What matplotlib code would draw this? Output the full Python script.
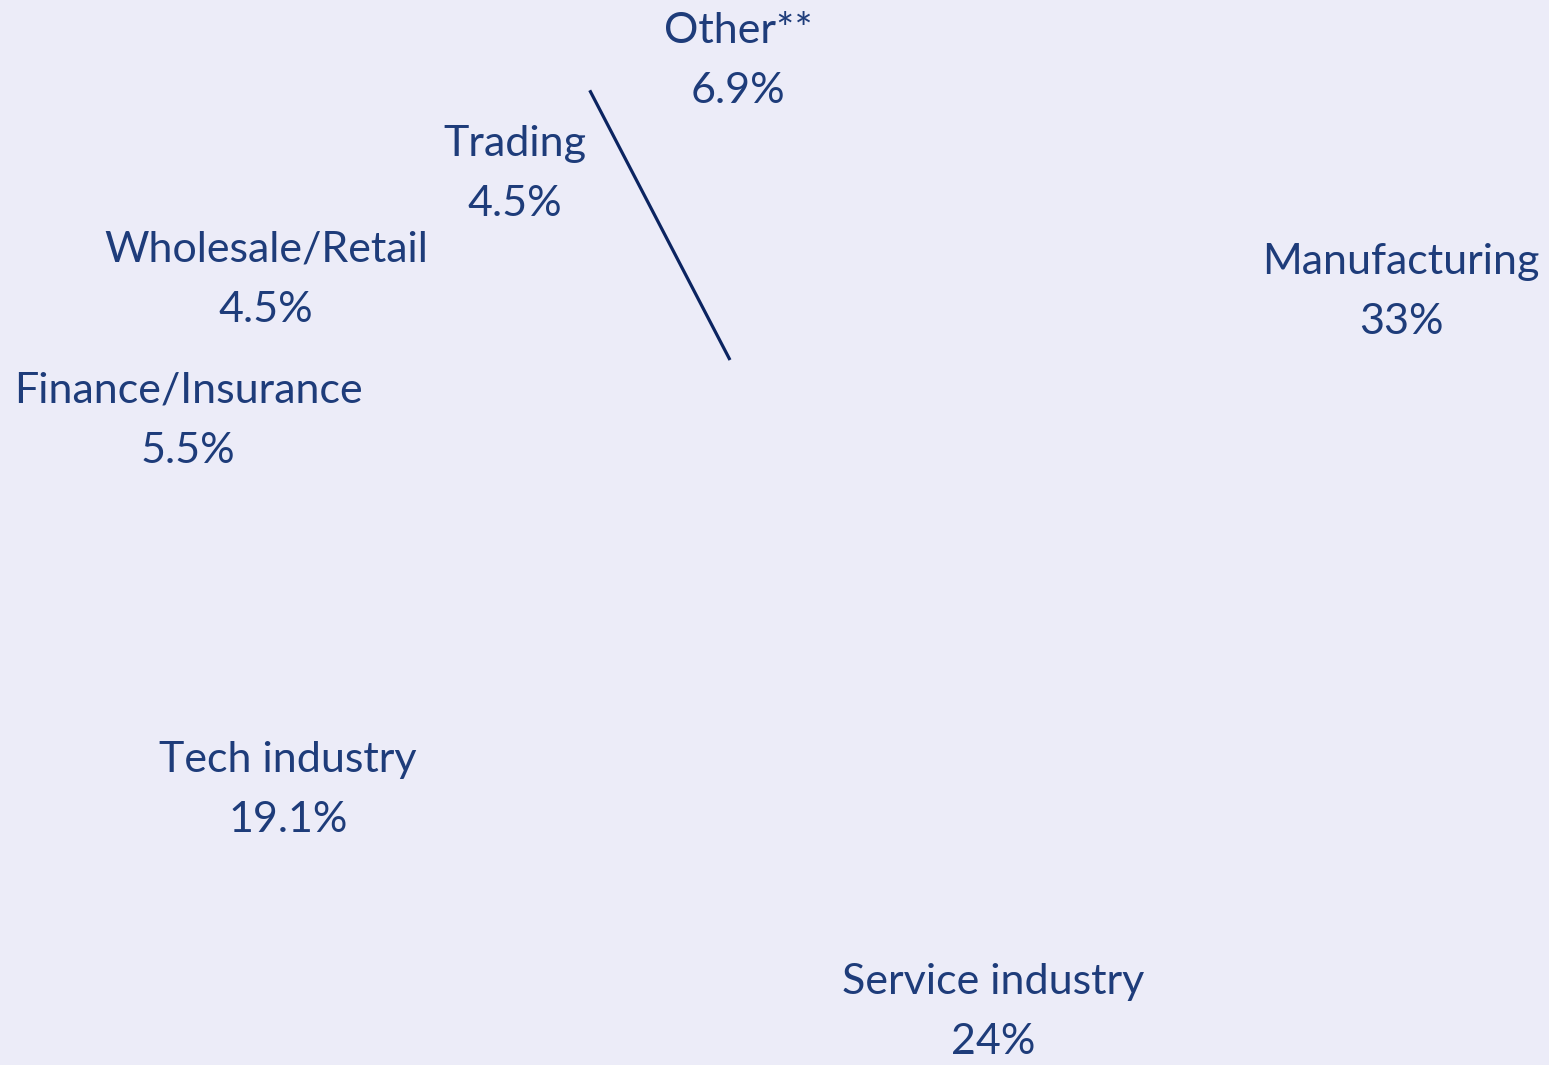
import matplotlib
matplotlib.use("Agg")
import matplotlib.pyplot as plt
import numpy as np

# данные
sectors = ["Manufacturing", "Service industry", "Tech industry", "Finance/Insurance",
           "Wholesale/Retail", "Trading", "Other**"]
shares = [33, 24, 19.1, 5.5, 4.5, 4.5, 6.9]
share_labels = ["33%", "24%", "19.1%", "5.5%", "4.5%", "4.5%", "6.9%"]

# где стоят подписи (пиксели, y вниз)
label_pos = [(1401, 292), (993, 1012), (288, 790), (188, 421),
             (266, 280), (515, 174), (738, 61)]

bg = "#ECECF8"
txt = "#1E3C7A"
line_c = "#0B2461"
W, H = 1549, 1065

fig = plt.figure(figsize=(W / 100, H / 100), dpi=100, facecolor=bg)
ax = fig.add_axes([0, 0, 1, 1])
ax.set_facecolor(bg)

# пирог, сектора цвета фона
cx, cy, r = 730, H - 360, 304
wedges, _ = ax.pie(shares, startangle=92, counterclock=False, radius=r,
                   center=(cx, cy), colors=[bg] * len(shares),
                   wedgeprops=dict(linewidth=0))
ax.set_xlim(0, W)
ax.set_ylim(0, H)
ax.set_aspect("equal")
ax.axis("off")

# граница между Trading и Other
w = wedges[-1]
th = np.deg2rad(max(w.theta1, w.theta2))
ax.plot([cx, cx + r * np.cos(th)], [cy, cy + r * np.sin(th)],
        color=line_c, lw=2.3, solid_capstyle="butt")

# подписи
for name, lab, (px, py) in zip(sectors, share_labels, label_pos):
    ax.text(px, H - py, name + "\n" + lab, ha="center", va="center",
            multialignment="center", fontsize=31, color=txt,
            family=["Lato", "DejaVu Sans"], linespacing=1.72)

fig.savefig("out.png", dpi=100, facecolor=bg)
